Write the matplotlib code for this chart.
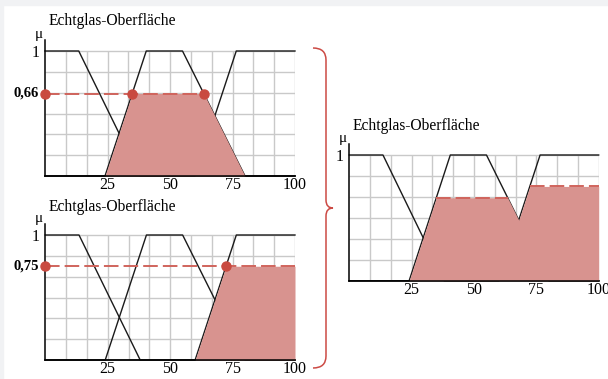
import numpy as np
import matplotlib.pyplot as plt
from matplotlib.path import Path
from matplotlib.patches import PathPatch, Rectangle

plt.rcParams['font.family'] = ['Liberation Serif', 'DejaVu Serif']

W, H = 608, 379

# membership functions (breakpoints)
a_x = [0, 13.5, 38, 100]
a_y = [1, 1, 0, 0]
b_x = [0, 24, 40.5, 55, 80, 100]
b_y = [0, 0, 1, 1, 0, 0]
c_x = [0, 60, 76.5, 100]
c_y = [0, 0, 1, 1]

level_b = 0.66
level_c = 0.75
level_b_txt = '0,66'
level_c_txt = '0,75'

title = 'Echtglas-Oberfläche'
xticks = [25, 50, 75, 100]
xticklabels = ['25', '50', '75', '100']

line_col = '#1a1a1a'
grid_col = '#c9c9c9'
fill_col = '#d8938f'
dot_col = '#c94a40'
dash_col = '#d0645c'
brace_col = '#cc4a44'

xs = np.union1d(np.linspace(0, 100, 2001), a_x + b_x + c_x)
mu_a = np.interp(xs, a_x, a_y)
mu_b = np.interp(xs, b_x, b_y)
mu_c = np.interp(xs, c_x, c_y)

# where the levels cut the sets
b_left = np.interp(level_b, b_y[1:3], b_x[1:3])
b_right = np.interp(-level_b, [-b_y[3], -b_y[4]], [b_x[3], b_x[4]])
c_left = np.interp(level_c, c_y[1:3], c_x[1:3])


def px_rect(x0, x1, y1, y0):
    # y1: pixel row of mu=1, y0: pixel row of mu=0
    unit = y0 - y1
    ytop = y1 - 0.09 * unit
    return [x0 / W, 1 - y0 / H, (x1 - x0) / W, (y0 - ytop) / H]


def base(ax):
    ax.set_xlim(0, 100)
    ax.set_ylim(0, 1.09)
    for s in ['top', 'right']:
        ax.spines[s].set_visible(False)
    for s in ['left', 'bottom']:
        ax.spines[s].set_linewidth(1.1)
        ax.spines[s].set_color('black')
        ax.spines[s].set_zorder(6)
    ax.vlines(np.arange(1, 13) * 100 / 12, 0, 1, color=grid_col, lw=1.0, zorder=1)
    ax.hlines(np.arange(1, 7) / 6, 0, 100, color=grid_col, lw=1.0, zorder=1)
    ax.set_xticks(xticks)
    ax.set_xticklabels(xticklabels)
    ax.set_yticks([1])
    ax.set_yticklabels(['1'])
    ax.tick_params(length=0, labelsize=11.5, pad=1.0)
    ax.tick_params(axis='y', pad=4)
    for x, y in [(a_x, a_y), (b_x, b_y), (c_x, c_y)]:
        ax.plot(x, y, color=line_col, lw=1.0, zorder=2, clip_on=False)
    ax.annotate('μ', xy=(0, 1.09), xytext=(-1.5, -1), textcoords='offset points',
                ha='right', va='bottom', fontsize=11)
    ax.set_facecolor('none')


fig = plt.figure(figsize=(W / 100, H / 100), dpi=100)
fig.patch.set_facecolor('white')
fig.patches.append(Rectangle((0, 1 - 5 / H), 1, 5 / H, transform=fig.transFigure,
                             color='#f1f2f4', zorder=0))
fig.patches.append(Rectangle((0, 0), 3 / W, 1, transform=fig.transFigure,
                             color='#f1f2f4', zorder=0))

dash = (0, (7.5, 2.6))

# top left: set B cut at 0.66
ax1 = fig.add_axes(px_rect(45, 295, 51, 176))
base(ax1)
ax1.fill_between(xs, 0, np.minimum(mu_b, level_b), where=mu_b > 0,
                 color=fill_col, lw=0, zorder=3)
ax1.plot([0, b_right], [level_b, level_b], color=dash_col, lw=1.4, ls=dash, zorder=4)
ax1.plot([0, b_left, b_right], [level_b] * 3, 'o', color=dot_col, ms=6.5,
         zorder=7, clip_on=False)
ax1.annotate(level_b_txt, xy=(0, level_b), xytext=(-4.5, 0), textcoords='offset points',
             ha='right', va='center', fontweight='bold', fontsize=10.5)

# bottom left: set C cut at 0.75
ax2 = fig.add_axes(px_rect(45.3, 295, 235, 360))
base(ax2)
ax2.fill_between(xs, 0, np.minimum(mu_c, level_c), where=mu_c > 0,
                 color=fill_col, lw=0, zorder=3)
ax2.plot([0, 100], [level_c, level_c], color=dash_col, lw=1.4, ls=dash, zorder=4)
ax2.plot([0, c_left], [level_c] * 2, 'o', color=dot_col, ms=6.5,
         zorder=7, clip_on=False)
ax2.annotate(level_c_txt, xy=(0, level_c), xytext=(-4.5, 0), textcoords='offset points',
             ha='right', va='center', fontweight='bold', fontsize=10.5)

# right: union
ax3 = fig.add_axes(px_rect(349.3, 598.7, 155, 280.7))
base(ax3)
union = np.maximum(np.minimum(mu_b, level_b), np.minimum(mu_c, level_c))
ax3.fill_between(xs, 0, union, where=union > 0, color=fill_col, lw=0, zorder=3)
ax3.plot([b_left, b_right], [level_b] * 2, color=dash_col, lw=1.4, ls=dash, zorder=4)
ax3.plot([c_left, 100], [level_c] * 2, color=dash_col, lw=1.4, ls=dash, zorder=4)

for (x, y) in [(49, 21), (49, 207), (353, 126)]:
    fig.text(x / W, 1 - y / H, title, ha='left', va='center', fontsize=11.2)

# curly brace
pts = [(313, 48), (326, 48), (326, 60), (326, 200), (326, 208), (333, 208),
       (326, 208), (326, 216), (326, 356), (326, 368), (313, 368)]
codes = [Path.MOVETO, Path.CURVE3, Path.CURVE3, Path.LINETO, Path.CURVE3, Path.CURVE3,
         Path.CURVE3, Path.CURVE3, Path.LINETO, Path.CURVE3, Path.CURVE3]
verts = [(x / W, 1 - y / H) for x, y in pts]
fig.patches.append(PathPatch(Path(verts, codes), transform=fig.transFigure,
                             fill=False, ec=brace_col, lw=1.1))

fig.savefig('out.png', dpi=100)
